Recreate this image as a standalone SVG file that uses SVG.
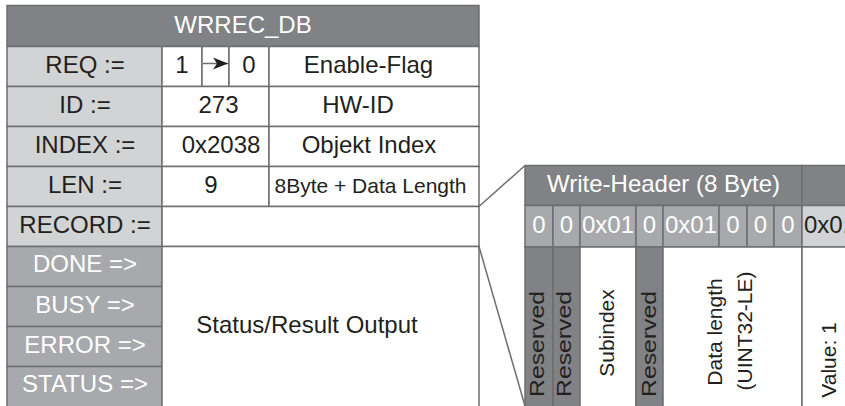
<svg xmlns="http://www.w3.org/2000/svg" width="845" height="406" viewBox="0 0 845 406">
<style>
  .c { stroke:#6d6e71; stroke-width:1.5; }
  .hd { fill:#808285; }
  .lt { fill:#d1d3d4; }
  .md { fill:#a7a9ac; }
  .wh { fill:#ffffff; }
  text { font-family:"Liberation Sans", Arial, sans-serif; font-size:24px; fill:#231f20; }
  .w { fill:#ffffff; }
  .m { text-anchor:middle; }
  .s21 { font-size:21px; }
  .ln { stroke:#6d6e71; stroke-width:1.5; fill:none; }
</style>
<defs>
  <marker id="ah" markerWidth="16" markerHeight="12" refX="15" refY="6" orient="auto" markerUnits="userSpaceOnUse">
    <path d="M0,0 L15,6 L0,12 L4,6 Z" fill="#231f20"/>
  </marker>
</defs>
<rect x="0" y="0" width="845" height="406" fill="#ffffff"/>

<g id="wrrec-db">
  <rect class="c hd" x="7" y="5.5" width="472" height="41"/>
  <text class="w m" x="243" y="33">WRREC_DB</text>
</g>

<g id="row-req">
  <rect class="c lt" x="7" y="46.5" width="155" height="40"/>
  <text class="m" x="85" y="72.5">REQ :=</text>
  <rect class="c wh" x="162" y="46.5" width="40" height="40"/>
  <text class="m" x="182" y="72.5">1</text>
  <rect class="c wh" x="202" y="46.5" width="27" height="40"/>
  <rect class="c wh" x="229" y="46.5" width="40" height="40"/>
  <text class="m" x="249" y="72.5">0</text>
  <rect class="c wh" x="269" y="46.5" width="210" height="40"/>
  <text class="m" x="368.5" y="72.5">Enable-Flag</text>
</g>

<g id="row-id">
  <rect class="c lt" x="7" y="86.5" width="155" height="40"/>
  <text class="m" x="85" y="112.5">ID :=</text>
  <rect class="c wh" x="162" y="86.5" width="107" height="40"/>
  <text class="m" x="218.5" y="112.5">273</text>
  <rect class="c wh" x="269" y="86.5" width="210" height="40"/>
  <text class="m" x="358" y="112.5">HW-ID</text>
</g>

<g id="row-index">
  <rect class="c lt" x="7" y="126.5" width="155" height="40"/>
  <text class="m" x="85" y="152.5">INDEX :=</text>
  <rect class="c wh" x="162" y="126.5" width="107" height="40"/>
  <text class="m" x="221" y="152.5">0x2038</text>
  <rect class="c wh" x="269" y="126.5" width="210" height="40"/>
  <text class="m" x="369" y="152.5">Objekt Index</text>
</g>

<g id="row-len">
  <rect class="c lt" x="7" y="166.5" width="155" height="40"/>
  <text class="m" x="85" y="192.5">LEN :=</text>
  <rect class="c wh" x="162" y="166.5" width="107" height="40"/>
  <text class="m" x="211" y="192.5">9</text>
  <rect class="c wh" x="269" y="166.5" width="210" height="40"/>
  <text class="m s21" x="370.5" y="192.5">8Byte + Data Length</text>
</g>

<g id="row-record">
  <rect class="c lt" x="7" y="206.5" width="155" height="40"/>
  <text class="m" x="85" y="232.5">RECORD :=</text>
  <rect class="c wh" x="162" y="206.5" width="317" height="40"/>
</g>

<g id="outputs">
  <rect class="c md" x="7" y="246.5" width="155" height="40"/>
  <text class="w m" x="85" y="272">DONE =&gt;</text>
  <rect class="c md" x="7" y="286.5" width="155" height="40"/>
  <text class="w m" x="85" y="313">BUSY =&gt;</text>
  <rect class="c md" x="7" y="326.5" width="155" height="40"/>
  <text class="w m" x="85" y="353">ERROR =&gt;</text>
  <rect class="c md" x="7" y="366.5" width="155" height="45"/>
  <text class="w m" x="85" y="392">STATUS =&gt;</text>
</g>

<g id="status-output">
  <rect class="c wh" x="162" y="246.5" width="317" height="165"/>
  <text class="m" x="307" y="333">Status/Result Output</text>
</g>

<g id="write-header">
  <rect class="c hd" x="525" y="165.5" width="277" height="40"/>
  <text class="w m" x="663.5" y="192">Write-Header (8 Byte)</text>
  <rect class="c hd" x="802" y="165.5" width="50" height="40"/>
</g>

<g id="header-bytes">
  <rect class="c md" x="525" y="205.5" width="28" height="41.5"/>
  <text class="w m" x="539" y="233">0</text>
  <rect class="c md" x="553" y="205.5" width="27" height="41.5"/>
  <text class="w m" x="566.5" y="233">0</text>
  <rect class="c md" x="580" y="205.5" width="56" height="41.5"/>
  <text class="w m" x="608" y="233">0x01</text>
  <rect class="c md" x="636" y="205.5" width="27" height="41.5"/>
  <text class="w m" x="649.5" y="233">0</text>
  <rect class="c md" x="663" y="205.5" width="56" height="41.5"/>
  <text class="w m" x="691" y="233">0x01</text>
  <rect class="c md" x="719" y="205.5" width="28" height="41.5"/>
  <text class="w m" x="733" y="233">0</text>
  <rect class="c md" x="747" y="205.5" width="27" height="41.5"/>
  <text class="w m" x="760.5" y="233">0</text>
  <rect class="c md" x="774" y="205.5" width="28" height="41.5"/>
  <text class="w m" x="788" y="233">0</text>
  <rect class="c lt" x="802" y="205.5" width="50" height="41.5"/>
  <text x="804" y="233">0x01</text>
</g>

<g id="header-fields">
  <rect class="c hd" x="525" y="247" width="28" height="165"/>
  <text class="m s21" transform="translate(544,344) rotate(-90)" textLength="106" lengthAdjust="spacingAndGlyphs">Reserved</text>
  <rect class="c hd" x="553" y="247" width="27" height="165"/>
  <text class="m s21" transform="translate(571,344) rotate(-90)" textLength="106" lengthAdjust="spacingAndGlyphs">Reserved</text>
  <rect class="c wh" x="580" y="247" width="56" height="165"/>
  <text class="m s21" transform="translate(614,333) rotate(-90)">Subindex</text>
  <rect class="c hd" x="636" y="247" width="27" height="165"/>
  <text class="m s21" transform="translate(656,344) rotate(-90)" textLength="106" lengthAdjust="spacingAndGlyphs">Reserved</text>
  <rect class="c wh" x="663" y="247" width="139" height="165"/>
  <text class="m s21" transform="translate(722,332) rotate(-90)">Data length</text>
  <text class="m s21" transform="translate(752,331) rotate(-90)">(UINT32-LE)</text>
  <rect class="c wh" x="802" y="247" width="50" height="165"/>
  <text class="m s21" transform="translate(836,360) rotate(-90)">Value: 1</text>
</g>

<g id="connectors">
  <line class="ln" x1="203" y1="63.5" x2="228" y2="63.5" marker-end="url(#ah)"/>
  <line class="ln" x1="479" y1="206.5" x2="525" y2="165.5"/>
  <line class="ln" x1="479" y1="246.5" x2="525" y2="406"/>
</g>
</svg>
